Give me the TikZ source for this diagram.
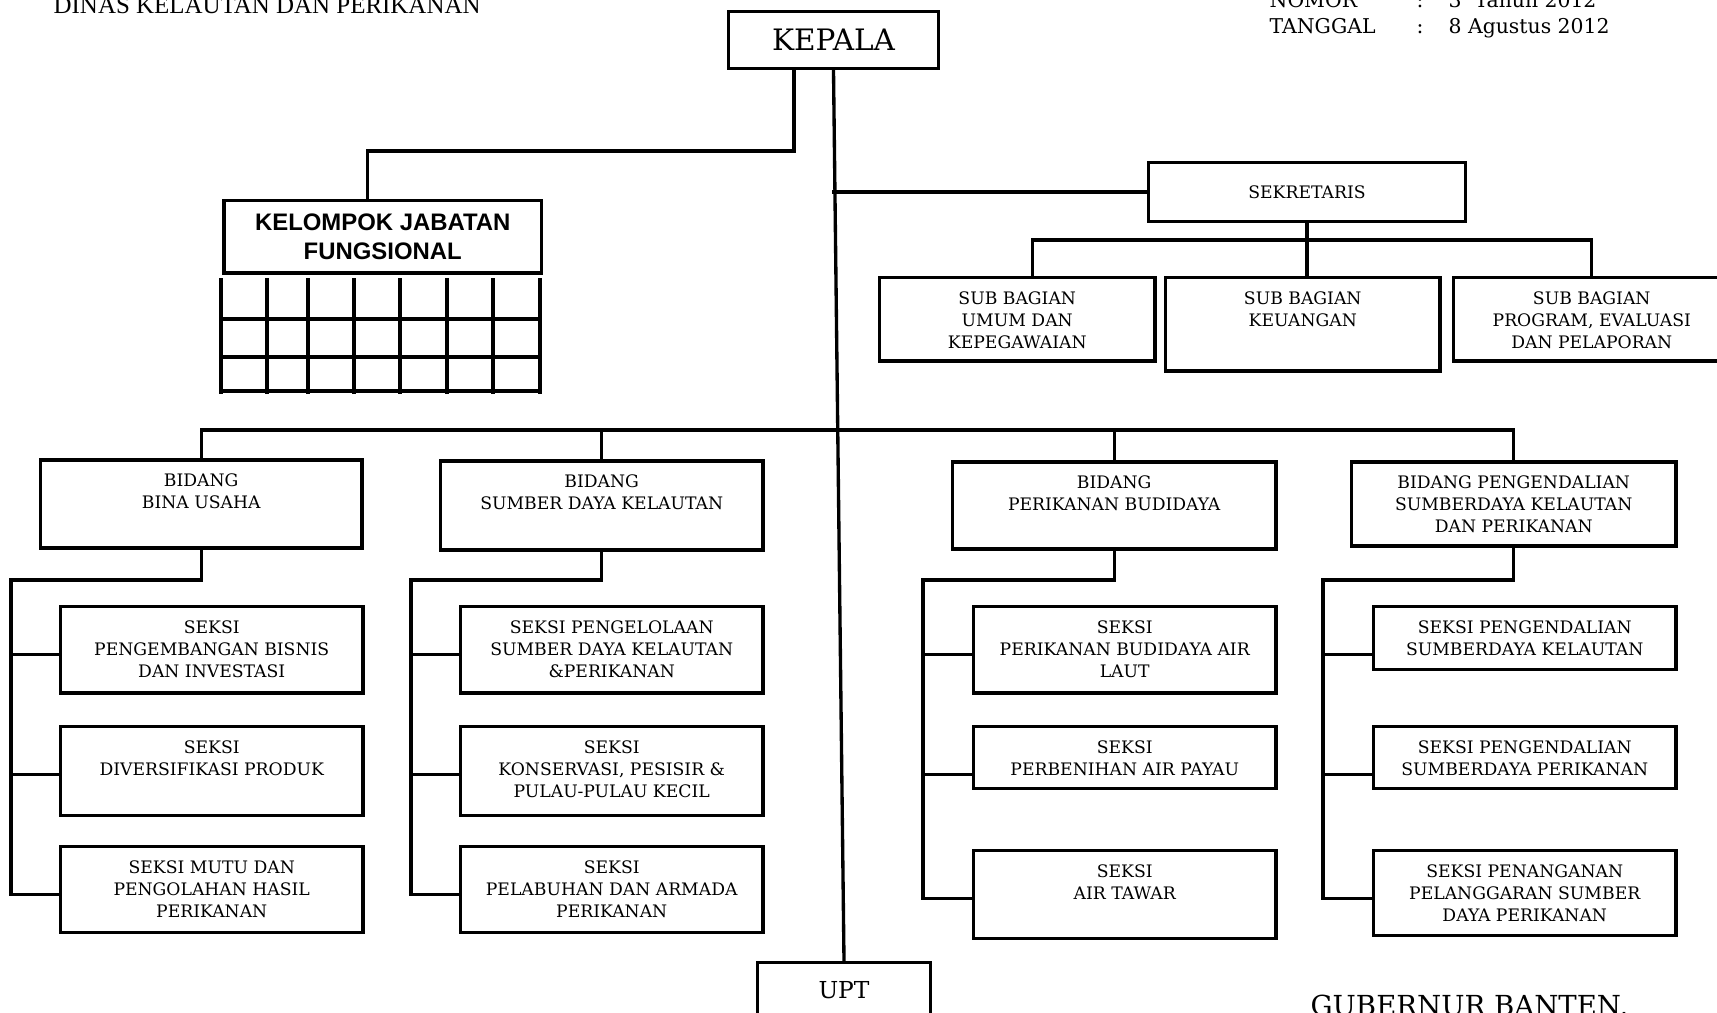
\documentclass[tikz,border=0pt]{standalone}
\usepackage{fontspec}
\setmainfont{DejaVu Serif}
\newfontfamily\timesfont{Liberation Serif}
\newfontfamily\arialfont{Liberation Sans}
\usetikzlibrary{positioning}
\tikzset{
    kotak/.style={draw,line width=2pt,inner sep=0pt},
    isi/.style={align=center,inner sep=0pt},
    teks/.style={inner sep=0pt,anchor=base west},
}
\begin{document}
\begin{tikzpicture}[x=0.02cm,y=-0.02cm,line width=1.9pt,line cap=rect,font=\fontsize{9.8}{12.5}\selectfont]
    \useasboundingbox (0,0) rectangle (1717,1012);
    \clip (0,0) rectangle (1717,1012);
    % kop surat
    \node[teks,font=\timesfont\fontsize{14.2}{16}\selectfont] (dinas) at (52,13) {DINAS KELAUTAN DAN PERIKANAN};
    \node[teks,font=\fontsize{11.6}{14}\selectfont] (nomor) at (1268,7) {NOMOR};
    \node[teks,font=\fontsize{11.6}{14}\selectfont] (nomorsep) at (1415,7) {:};
    \node[teks,font=\fontsize{11.6}{14}\selectfont] (nomorval) at (1447,7) {3~~Tahun 2012};
    \node[teks,font=\fontsize{11.6}{14}\selectfont] (tgl) at (1268,33) {TANGGAL};
    \node[teks,font=\fontsize{11.6}{14}\selectfont] (tglsep) at (1415,33) {:};
    \node[teks,font=\fontsize{11.6}{14}\selectfont] (tglval) at (1447,33) {8 Agustus 2012};
    \node[teks,font=\fontsize{15.7}{18}\selectfont] (gub) at (1309,1015) {GUBERNUR BANTEN,};

    % pimpinan
    \node[kotak,minimum width=4.2cm,minimum height=1.14cm,font=\fontsize{16.8}{20}\selectfont] (kepala) at (833.5,40) {KEPALA};
    \node[kotak,minimum width=3.46cm,minimum height=1.1cm,font=\fontsize{13.3}{16}\selectfont] (upt) at (844,990) {UPT};
    \draw (kepala.south) -- (upt.north);

    % kelompok jabatan fungsional
    \node[kotak,anchor=north west,minimum width=6.36cm,minimum height=1.46cm,align=center,
        font=\arialfont\bfseries\fontsize{13.6}{16.1}\selectfont] (kjf) at (222,198.5) {KELOMPOK JABATAN\\FUNGSIONAL};
    \coordinate (kb) at (794,151);
    \draw (kepala.south -| kb) -- (kb) -| ([xshift=-0.31cm]kjf.north);
    \foreach \gx in {221,267,308,354,400,447,493,540}
        \draw[line width=2.4pt,line cap=butt] (\gx,278)--(\gx,394);
    \foreach \gy in {319,357,391}
        \draw[line width=2.2pt,line cap=butt] (219,\gy)--(542,\gy);

    % sekretariat
    \node[kotak,minimum width=6.34cm,minimum height=1.18cm,text depth=-0.1cm] (sek) at (1307,192) {SEKRETARIS};
    \draw (sek.west) -- (sek.west -| kepala.south);
    \node[kotak,anchor=north west,minimum width=5.52cm,minimum height=1.68cm] (sub1) at (877.5,275.5) {};
    \node[kotak,anchor=north west,minimum width=5.50cm,minimum height=1.88cm] (sub2) at (1163.5,275.5) {};
    \node[kotak,anchor=north west,minimum width=5.54cm,minimum height=1.68cm] (sub3) at (1451.5,275.5) {};
    \node[isi,below=0.3cm of sub1.north] (tsub1) {SUB BAGIAN\\UMUM DAN\\KEPEGAWAIAN};
    \node[isi,below=0.3cm of sub2.north] (tsub2) {SUB BAGIAN\\KEUANGAN};
    \node[isi,below=0.3cm of sub3.north] (tsub3) {SUB BAGIAN\\PROGRAM, EVALUASI\\DAN PELAPORAN};
    \coordinate (sbus) at (1300,240);
    \draw ([xshift=0.31cm]sub1.north) |- (sbus) -| (sub3.north);
    \draw (sek.south) -- (sek.south |- sub2.north);

    % bidang
    \node[kotak,anchor=north west,minimum width=6.44cm,minimum height=1.76cm] (b1) at (38.5,458) {};
    \node[kotak,anchor=north west,minimum width=6.46cm,minimum height=1.78cm] (b2) at (438.5,459) {};
    \node[kotak,anchor=north west,minimum width=6.48cm,minimum height=1.74cm] (b3) at (950.5,460) {};
    \node[kotak,anchor=north west,minimum width=6.50cm,minimum height=1.68cm] (b4) at (1349.5,460) {};
    \node[isi,below=0.29cm of b1.north] (tb1) {BIDANG\\BINA USAHA};
    \node[isi,below=0.29cm of b2.north] (tb2) {BIDANG\\SUMBER DAYA KELAUTAN};
    \node[isi,below=0.29cm of b3.north] (tb3) {BIDANG\\PERIKANAN BUDIDAYA};
    \node[isi,below=0.29cm of b4.north] (tb4) {BIDANG PENGENDALIAN\\SUMBERDAYA KELAUTAN\\DAN PERIKANAN};
    \coordinate (mbus) at (800,430);
    \draw (b1.north) |- (mbus) -| (b4.north);
    \draw (b2.north) -- (b2.north |- mbus) (b3.north) -- (b3.north |- mbus);

    % seksi
    \node[kotak,anchor=north west,minimum width=6.06cm,minimum height=1.74cm] (s11) at (58.5,604.5) {};
    \node[kotak,anchor=north west,minimum width=6.06cm,minimum height=1.78cm] (s12) at (58.5,724.5) {};
    \node[kotak,anchor=north west,minimum width=6.06cm,minimum height=1.72cm] (s13) at (58.5,844.5) {};
    \node[kotak,anchor=north west,minimum width=6.06cm,minimum height=1.74cm] (s21) at (458.5,604.5) {};
    \node[kotak,anchor=north west,minimum width=6.06cm,minimum height=1.78cm] (s22) at (458.5,724.5) {};
    \node[kotak,anchor=north west,minimum width=6.06cm,minimum height=1.72cm] (s23) at (458.5,844.5) {};
    \node[kotak,anchor=north west,minimum width=6.06cm,minimum height=1.74cm] (s31) at (971.5,604.5) {};
    \node[kotak,anchor=north west,minimum width=6.06cm,minimum height=1.24cm] (s32) at (971.5,724.5) {};
    \node[kotak,anchor=north west,minimum width=6.06cm,minimum height=1.76cm] (s33) at (971.5,848.5) {};
    \node[kotak,anchor=north west,minimum width=6.06cm,minimum height=1.26cm] (s41) at (1371.5,604.5) {};
    \node[kotak,anchor=north west,minimum width=6.06cm,minimum height=1.24cm] (s42) at (1371.5,724.5) {};
    \node[kotak,anchor=north west,minimum width=6.06cm,minimum height=1.70cm] (s43) at (1371.5,848.5) {};
    \node[isi,below=0.29cm of s11.north] (ts11) {SEKSI\\PENGEMBANGAN BISNIS\\DAN INVESTASI};
    \node[isi,below=0.29cm of s12.north] (ts12) {SEKSI\\DIVERSIFIKASI PRODUK};
    \node[isi,below=0.29cm of s13.north] (ts13) {SEKSI MUTU DAN\\PENGOLAHAN HASIL\\PERIKANAN};
    \node[isi,below=0.29cm of s21.north] (ts21) {SEKSI PENGELOLAAN\\SUMBER DAYA KELAUTAN\\\&PERIKANAN};
    \node[isi,below=0.29cm of s22.north] (ts22) {SEKSI\\KONSERVASI, PESISIR \&\\PULAU-PULAU KECIL};
    \node[isi,below=0.29cm of s23.north] (ts23) {SEKSI\\PELABUHAN DAN ARMADA\\PERIKANAN};
    \node[isi,below=0.29cm of s31.north] (ts31) {SEKSI\\PERIKANAN BUDIDAYA AIR\\LAUT};
    \node[isi,below=0.29cm of s32.north] (ts32) {SEKSI\\PERBENIHAN AIR PAYAU};
    \node[isi,below=0.29cm of s33.north] (ts33) {SEKSI\\AIR TAWAR};
    \node[isi,below=0.29cm of s41.north] (ts41) {SEKSI PENGENDALIAN\\SUMBERDAYA KELAUTAN};
    \node[isi,below=0.29cm of s42.north] (ts42) {SEKSI PENGENDALIAN\\SUMBERDAYA PERIKANAN};
    \node[isi,below=0.29cm of s43.north] (ts43) {SEKSI PENANGANAN\\PELANGGARAN SUMBER\\DAYA PERIKANAN};
    \coordinate (c1) at (11,580);
    \coordinate (c2) at (411,580);
    \coordinate (c3) at (923,580);
    \coordinate (c4) at (1323,580);
    \foreach \k in {1,...,4}{
        \draw (b\k.south) |- (c\k);
        \foreach \r in {1,2,3}
            \draw ([yshift=-1cm]s\k\r.north west) -| (c\k);
    }
\end{tikzpicture}
\end{document}
